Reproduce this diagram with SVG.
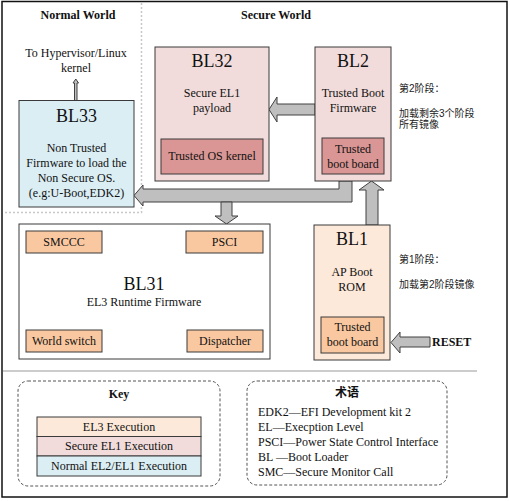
<svg xmlns="http://www.w3.org/2000/svg" width="510" height="501" viewBox="0 0 510 501">
<style>
text{font-family:"Liberation Serif","Times New Roman",serif;fill:#111;}
.t12{font-size:12px;}
.b12{font-size:12px;font-weight:bold;}
.t18{font-size:18px;}
.mid{text-anchor:middle;}
.cjk{font-family:"Liberation Sans","Noto Sans CJK SC",sans-serif;font-size:10px;fill:#222;}
.cjkb{font-family:"Liberation Serif","Noto Sans CJK SC",serif;font-size:12px;font-weight:bold;}
.box{stroke:#3a3a3a;stroke-width:1;}
.arr{fill:#bfbfbf;stroke:#404040;stroke-width:1;stroke-linejoin:miter;}
.nw{fill:#dbeef4;}
.sec{fill:#f2dcdb;}
.el3{fill:#fde9d9;}
.dark{fill:#d99694;}
.orange{fill:#fac8a0;}
.dash{fill:none;stroke:#555;stroke-width:1;stroke-dasharray:3,2;}
.dot{fill:none;stroke:#c8c8c8;stroke-width:1.5;stroke-dasharray:2,2;}
</style>
<rect x="0" y="0" width="510" height="501" fill="#fff"/>
<rect x="2" y="1.5" width="505" height="495.5" fill="none" stroke="#111" stroke-width="1.5"/>
<line x1="3" y1="371" x2="477" y2="371" stroke="#999" stroke-width="1.2"/>
<polyline class="dot" points="141.5,3 141.5,212.5 3,212.5"/>
<text class="b12 mid" x="78" y="19">Normal World</text>
<text class="b12 mid" x="276" y="19">Secure World</text>
<text class="t12 mid" x="76" y="57">To Hypervisor/Linux</text>
<text class="t12 mid" x="76" y="72">kernel</text>

<g id="connectors">
<polygon class="arr" points="74.5,100.5 74.5,83 73,83 75.8,79 78.5,83 77,83 77,100.5"/>
<polygon class="arr" points="315,104 277,104 277,97 269,109.5 277,122 277,115 315,115"/>
<polygon class="arr" points="339,181 352,181 352,202 143,202 143,206 134,195.5 143,185 143,189 339,189"/>
<polygon class="arr" points="221,202 232,202 232,216 238,216 226.5,224 215,216 221,216"/>
<polygon class="arr" points="366,225 366,190 359,190 371.5,181 384,190 378,190 378,225"/>
<polygon class="arr" points="430,337 400,337 400,332 391,342.5 400,353 400,347 430,347"/>
</g>

<g id="BL33">
<rect class="box nw" x="19" y="100.5" width="115" height="106.5"/>
<text class="t18 mid" x="76.5" y="122">BL33</text>
<text class="t12 mid" x="76.5" y="152">Non Trusted</text>
<text class="t12 mid" x="76.5" y="167">Firmware to load the</text>
<text class="t12 mid" x="76.5" y="182">Non Secure OS.</text>
<text class="t12 mid" x="76.5" y="197">(e.g:U-Boot,EDK2)</text>
</g>

<g id="BL32">
<rect class="box sec" x="155" y="47" width="114" height="134"/>
<text class="t18 mid" x="212" y="67">BL32</text>
<text class="t12 mid" x="212" y="97">Secure EL1</text>
<text class="t12 mid" x="212" y="112">payload</text>
<rect class="box dark" x="161" y="139" width="102" height="35"/>
<text class="t12 mid" x="212" y="160">Trusted OS kernel</text>
</g>

<g id="BL2">
<rect class="box sec" x="315" y="47" width="76" height="134"/>
<text class="t18 mid" x="353" y="67">BL2</text>
<text class="t12 mid" x="353" y="97">Trusted Boot</text>
<text class="t12 mid" x="353" y="112">Firmware</text>
<rect class="box dark" x="322" y="138" width="62" height="36"/>
<text class="t12 mid" x="353" y="153">Trusted</text>
<text class="t12 mid" x="353" y="168">boot board</text>
</g>

<g id="stage2">
<text class="cjk" x="399" y="92">第2阶段：</text>
<text class="cjk" x="399" y="117">加载剩余3个阶段</text>
<text class="cjk" x="399" y="128">所有镜像</text>
</g>

<g id="BL31">
<rect class="box" fill="#fff" x="19" y="224" width="251" height="135"/>
<text class="t18 mid" x="144" y="290">BL31</text>
<text class="t12 mid" x="144" y="306">EL3 Runtime Firmware</text>
<rect class="box orange" x="26" y="231" width="76" height="22"/>
<text class="t12 mid" x="64" y="246">SMCCC</text>
<rect class="box orange" x="186" y="231" width="77" height="22"/>
<text class="t12 mid" x="224.5" y="246">PSCI</text>
<rect class="box orange" x="26" y="330" width="76" height="22"/>
<text class="t12 mid" x="64" y="345">World switch</text>
<rect class="box orange" x="187" y="330" width="76" height="22"/>
<text class="t12 mid" x="225" y="345">Dispatcher</text>
</g>

<g id="BL1">
<rect class="box el3" x="314" y="225" width="76" height="135"/>
<text class="t18 mid" x="352" y="245">BL1</text>
<text class="t12 mid" x="352" y="276">AP Boot</text>
<text class="t12 mid" x="352" y="291">ROM</text>
<rect class="box orange" x="321" y="317" width="63" height="36"/>
<text class="t12 mid" x="352.5" y="331">Trusted</text>
<text class="t12 mid" x="352.5" y="346">boot board</text>
</g>

<g id="stage1">
<text class="cjk" x="399" y="263">第1阶段：</text>
<text class="cjk" x="399" y="288">加载第2阶段镜像</text>
</g>

<g id="RESET">
<text class="b12" x="432" y="346">RESET</text>
</g>

<g id="key">
<rect class="dash" x="18" y="381" width="202" height="105" rx="10"/>
<text class="b12 mid" x="119" y="398">Key</text>
<rect class="box el3" x="37" y="417" width="164" height="19.5"/>
<text class="t12 mid" x="119" y="430.5">EL3 Execution</text>
<rect class="box sec" x="37" y="436.5" width="164" height="19.5"/>
<text class="t12 mid" x="119" y="450">Secure EL1 Execution</text>
<rect class="box nw" x="37" y="456" width="164" height="20"/>
<text class="t12 mid" x="119" y="470">Normal EL2/EL1 Execution</text>
</g>

<g id="glossary">
<rect class="dash" x="247" y="381" width="200" height="104" rx="10"/>
<text class="cjkb mid" x="347" y="397">术语</text>
<text class="t12" x="258" y="416">EDK2—EFI Development kit 2</text>
<text class="t12" x="258" y="431">EL—Execption Level</text>
<text class="t12" x="258" y="446">PSCI—Power State Control Interface</text>
<text class="t12" x="258" y="461">BL —Boot Loader</text>
<text class="t12" x="258" y="476">SMC—Secure Monitor Call</text>
</g>
</svg>
